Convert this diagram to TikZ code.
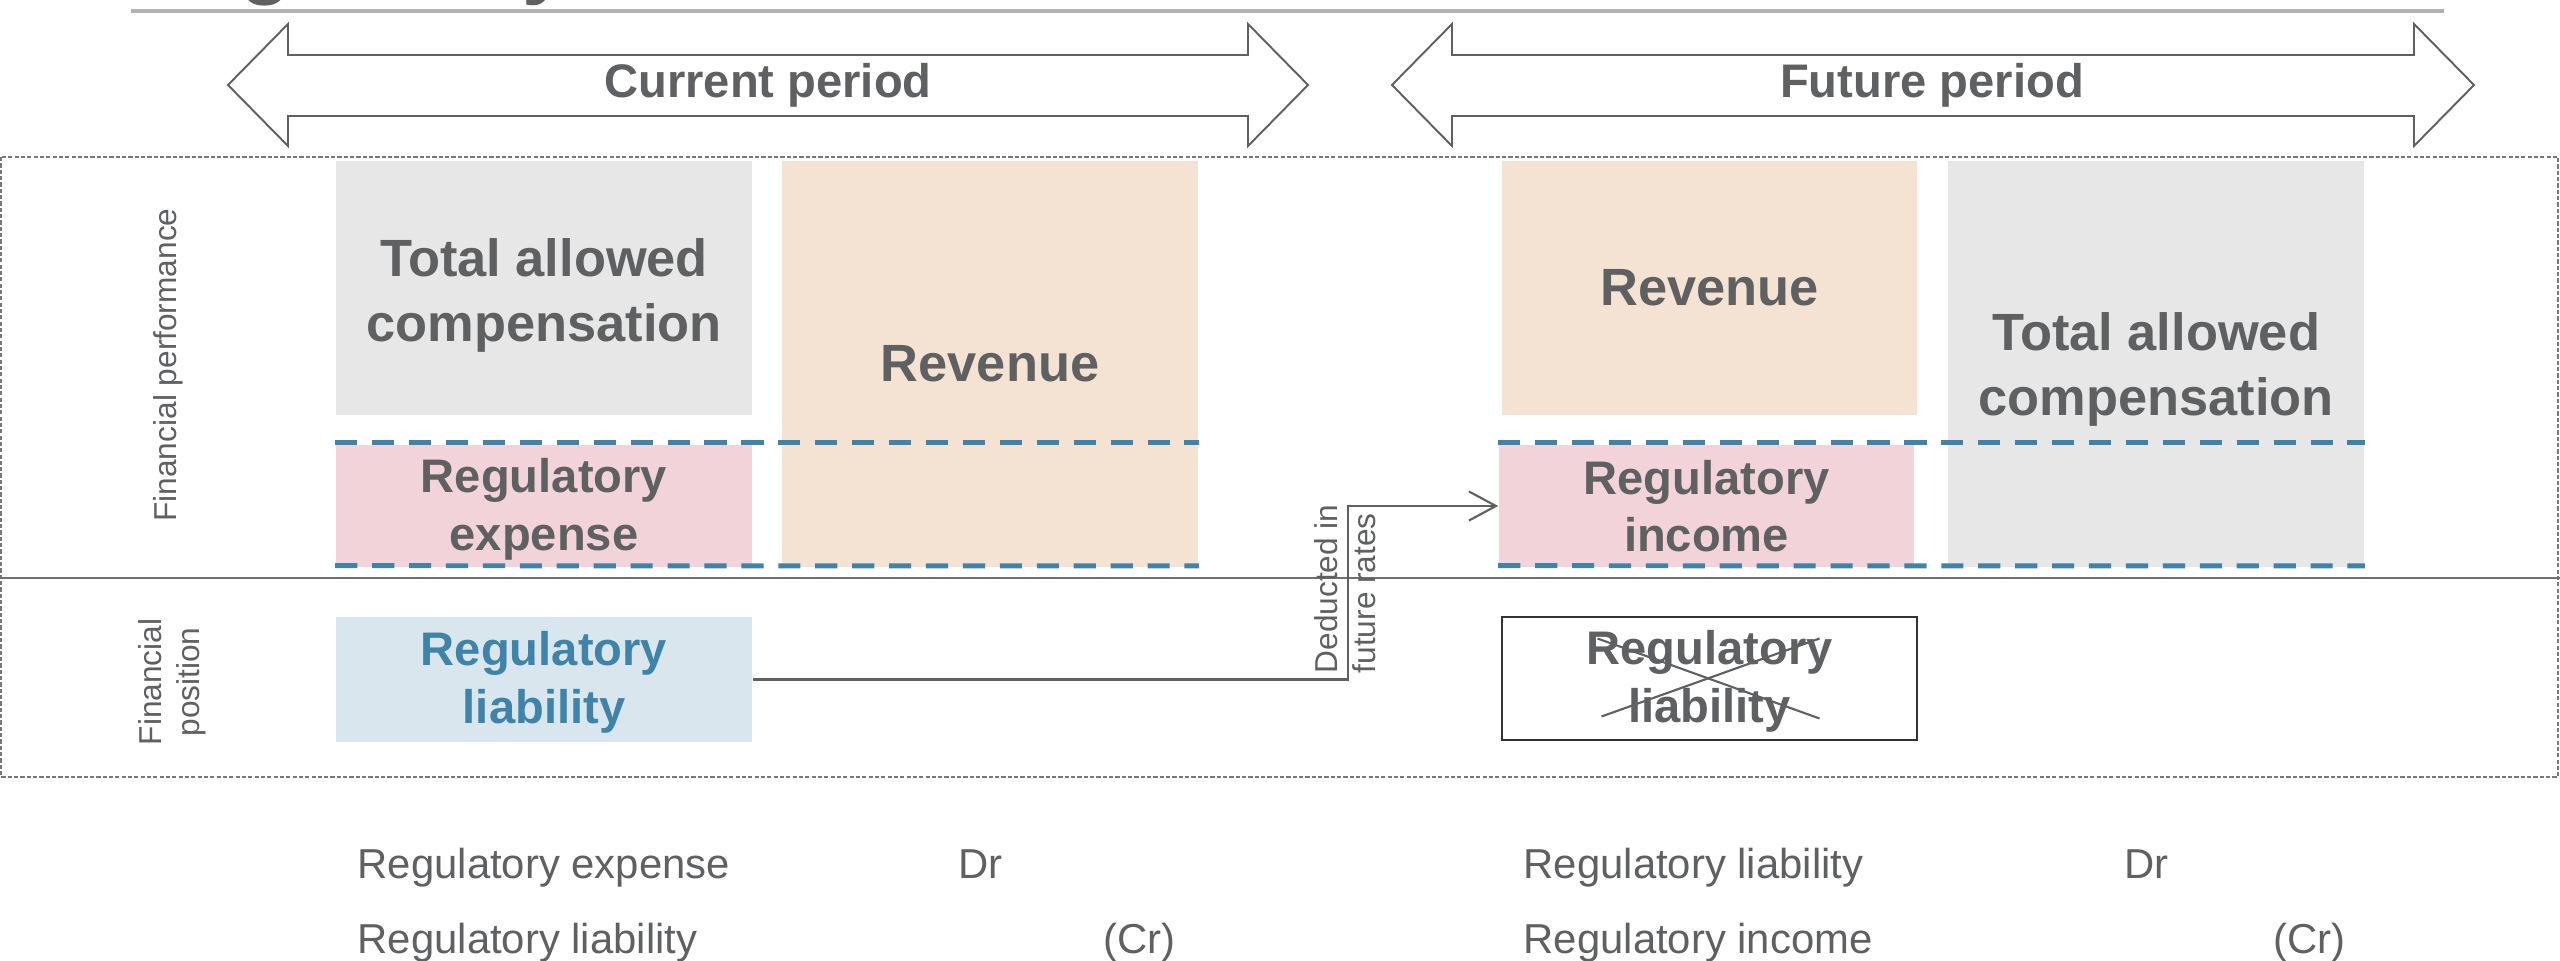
\documentclass[tikz,border=0pt]{standalone}
\usepackage{fontspec}
\setmainfont{Liberation Sans}
\usetikzlibrary{arrows.meta}
\definecolor{txtgray}{HTML}{5F6062}
\definecolor{boxgray}{HTML}{E7E7E7}
\definecolor{peach}{HTML}{F4E2D3}
\definecolor{pinkbox}{HTML}{F2D3D9}
\definecolor{lblue}{HTML}{D9E6EE}
\definecolor{dblue}{HTML}{3F84A8}
\definecolor{linegray}{HTML}{606060}
\definecolor{topgray}{HTML}{B3B3B3}
\newcommand\mybigbold{\fontsize{14.9pt}{18.5pt}\selectfont\bfseries}
\newcommand\myregbold{\fontsize{13.4pt}{16.4pt}\selectfont\bfseries}
\newcommand\myperiod{\fontsize{13.4pt}{16pt}\selectfont\bfseries}
\newcommand\mybottom{\fontsize{11.9pt}{14pt}\selectfont}
\newcommand\myside{\fontsize{9pt}{10.8pt}\selectfont}
\newcommand\mytitle{\fontsize{23.6pt}{28pt}\selectfont\bfseries}
\begin{document}
\begin{tikzpicture}[x=0.01cm,y=-0.01cm,
  box/.style={rectangle, inner sep=0pt, align=center, text=txtgray, font=\mybigbold},
  regbox/.style={box, font=\myregbold},
  boxlabel/.style={inner sep=0pt, align=center, text=txtgray, font=\mybigbold},
  bluedash/.style={draw=dblue, line width=1.42pt, dash pattern=on 6.3pt off 4.2pt},
  periodarrow/.style={draw=linegray, fill=white, line width=0.55pt, line join=miter},
  periodtext/.style={font=\myperiod, text=txtgray, inner sep=0pt},
  conn/.style={draw=linegray, line width=0.6pt, -{Straight Barb[length=0.27cm, width=0.29cm, line width=0.6pt]}},
  sidetext/.style={font=\myside, text=txtgray, inner sep=0pt},
  bottomtext/.style={font=\mybottom, text=txtgray, anchor=base west, inner sep=0pt}]
\useasboundingbox (0,0) rectangle (2560,961);

% clipped title and top rule
\begin{scope}
\clip (0,0) rectangle (2560,961);
\node[anchor=base west, font=\mytitle, text=txtgray, inner sep=0pt] (title) at (134,-11) {Regulatory};
\end{scope}
\draw[topgray, line width=1.1pt] (131,11) -- (2444,11);

% period arrows
\draw[periodarrow] (228,85) -- (288,24) -- (288,55) -- (1248,55) -- (1248,24) -- (1308,85)
  -- (1248,146) -- (1248,116) -- (288,116) -- (288,146) -- cycle;
\node[periodtext] (curr) at (768,85) {Current period};
\draw[periodarrow] (1392,85) -- (1452,24) -- (1452,55) -- (2414,55) -- (2414,24) -- (2474,85)
  -- (2414,146) -- (2414,116) -- (1452,116) -- (1452,146) -- cycle;
\node[periodtext] (fut) at (1932,85) {Future period};

% frame and separator
\draw[linegray!85, line width=0.45pt, dash pattern=on 1.2pt off 0.6pt] (1,157) rectangle (2558,777);
\draw[linegray!90, line width=0.7pt] (0,578) -- (2560,578);

% side labels
\node[sidetext, rotate=90] (perf) at (168,365) {Financial performance};
\node[sidetext, rotate=90, align=center] (posn) at (172,682) {Financial\\position};

% current period boxes
\node[box, fill=boxgray, minimum width=4.16cm, minimum height=2.54cm] (tacA) at (544,288) {};
\node[boxlabel] (tacAtxt) at ([yshift=-0.07cm]tacA.center) {Total allowed\\compensation};
\node[box, fill=peach, minimum width=4.16cm, minimum height=4.06cm] (revA) at (990,364) {Revenue};
\node[regbox, fill=pinkbox, minimum width=4.16cm, minimum height=1.22cm] (expA) at (544,506) {};
\node[boxlabel, font=\myregbold] (expAtxt) at ([yshift=-0.03cm]expA.center) {Regulatory\\expense};
\node[regbox, fill=lblue, minimum width=4.16cm, minimum height=1.25cm] (liabA) at (544,679.5) {};
\node[boxlabel, font=\myregbold, text=dblue] (liabAtxt) at ([yshift=-0.03cm]liabA.center) {Regulatory\\liability};

% future period boxes
\node[box, fill=peach, minimum width=4.15cm, minimum height=2.54cm] (revB) at (1709.5,288) {Revenue};
\node[box, fill=boxgray, minimum width=4.16cm, minimum height=4.06cm] (tacB) at (2156,364) {};
\node[boxlabel] (tacBtxt) at ([yshift=-0.05cm]tacB.center) {Total allowed\\compensation};
\node[regbox, fill=pinkbox, minimum width=4.15cm, minimum height=1.22cm] (incB) at (1706.5,506) {Regulatory\\income};
\node[regbox, draw=black!80, line width=0.6pt, minimum width=4.15cm, minimum height=1.23cm] (liabB) at (1709.5,678.5) {};
\node[boxlabel, font=\myregbold] (liabBtxt) at ([yshift=-0.03cm]liabB.center) {Regulatory\\liability};
\draw[txtgray, line width=0.6pt] ([shift={(-112,-40)}]liabB.center) -- ([shift={(110,40)}]liabB.center);
\draw[txtgray, line width=0.6pt] ([shift={(-108,38)}]liabB.center) -- ([shift={(110,-40)}]liabB.center);

% blue dashed lines
\draw[bluedash] ([yshift=0.02cm]expA.north west) -- ([yshift=0.02cm]revA.east |- expA.north);
\draw[bluedash] ([yshift=0.02cm]expA.south west) -- ([yshift=0.02cm]revA.south east);
\draw[bluedash] ([yshift=0.02cm]incB.north west) -- ([yshift=0.02cm]tacB.east |- incB.north);
\draw[bluedash] ([yshift=0.02cm]incB.south west) -- ([yshift=0.02cm]tacB.south east);

% connector
\draw[conn] (liabA.east) -- ++(595,0) |- (incB.west);
\node[sidetext, rotate=90, anchor=north west, align=left] (ded) at (1314,674) {Deducted in\\future rates};

% journal entries
\node[bottomtext] (e1) at (357,878) {Regulatory expense};
\node[bottomtext] (e2) at (958,878) {Dr};
\node[bottomtext] (e3) at (357,953) {Regulatory liability};
\node[bottomtext] (e4) at (1103,953) {(Cr)};
\node[bottomtext] (f1) at (1523,878) {Regulatory liability};
\node[bottomtext] (f2) at (2124,878) {Dr};
\node[bottomtext] (f3) at (1523,953) {Regulatory income};
\node[bottomtext] (f4) at (2273,953) {(Cr)};
\end{tikzpicture}
\end{document}
